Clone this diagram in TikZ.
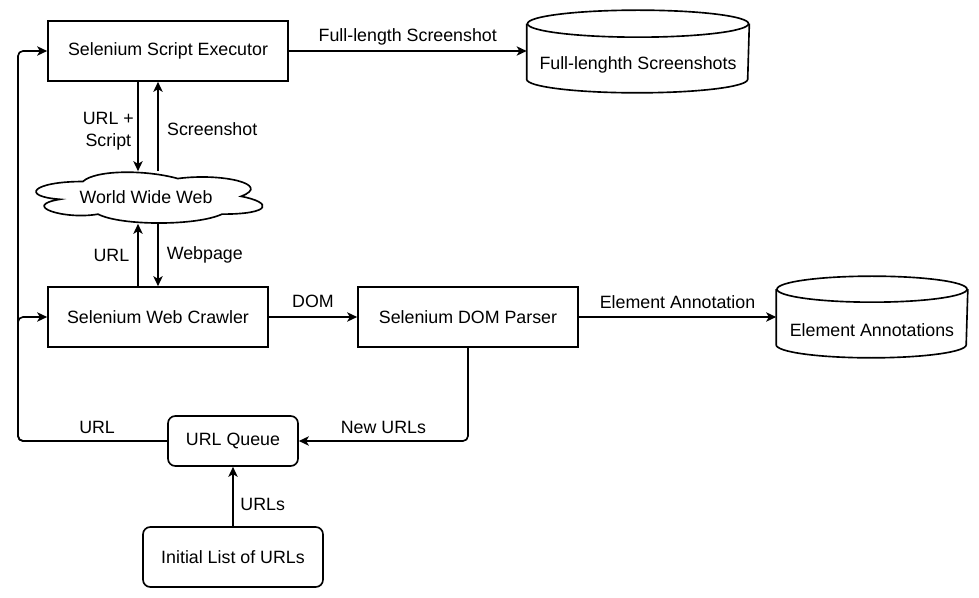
\documentclass[tikz,border=0pt]{standalone}
\usepackage{fontspec}
\setmainfont{Liberation Sans}
\usetikzlibrary{arrows.meta}
\begin{document}
\begin{tikzpicture}[x=0.03cm, y=-0.03cm, line width=1.4pt,
  font=\fontsize{15.2}{18.5}\selectfont,
  box/.style={draw, minimum height=1.8cm, inner sep=0pt},
  store/.style={minimum height=1.62cm, inner sep=0pt},
  flow/.style={-{Stealth[length=0.3cm, width=0.28cm, inset=0.08cm]}},
  lbl/.style={inner sep=0pt}]
\useasboundingbox (0,0) rectangle (979,598);

\node[box, minimum width=7.2cm] (exec) at (168,51) {Selenium Script Executor};
\node[box, minimum width=6.6cm] (crawler) at (158,317) {Selenium Web Crawler};
\node[box, minimum width=6.6cm] (parser) at (468,317) {Selenium DOM Parser};
\node[box, rounded corners=0.22cm, minimum width=3.9cm, minimum height=1.5cm] (queue) at (233,441) {URL Queue};
\node[box, rounded corners=0.22cm, minimum width=5.4cm] (init) at (233,557) {Initial List of URLs};

% stores
\node[store, minimum width=6.63cm] (shots) at (638,65) {Full-lenghth Screenshots};
\draw ([yshift=0.405cm]shots.north west) -- ([yshift=0.405cm]shots.south west)
  arc[start angle=180, end angle=360, x radius=3.315cm, y radius=0.405cm]
  -- ([yshift=0.405cm]shots.north east);
\draw ([yshift=0.405cm]shots.north) ellipse[x radius=3.315cm, y radius=0.405cm];
\node[store, minimum width=5.7cm] (annots) at (872,330) {Element Annotations};
\draw ([yshift=0.39cm]annots.north west) -- ([yshift=0.39cm]annots.south west)
  arc[start angle=180, end angle=360, x radius=2.85cm, y radius=0.39cm]
  -- ([yshift=0.39cm]annots.north east);
\draw ([yshift=0.39cm]annots.north) ellipse[x radius=2.85cm, y radius=0.39cm];

% cloud
\node[inner sep=0pt, minimum width=7.59cm, minimum height=1.53cm] (www) at (146,197.5) {World Wide Web};
\draw[shift={(19.6,166.7)}, x=7.59cm, y=-1.779cm]
  (.25,.25) .. controls (.05,.25) and (0,.5) .. (.16,.55)
  .. controls (0,.66) and (.18,.9) .. (.31,.8)
  .. controls (.4,1) and (.7,1) .. (.8,.8)
  .. controls (1,.8) and (1,.6) .. (.875,.5)
  .. controls (1,.3) and (.8,.1) .. (.625,.2)
  .. controls (.5,.05) and (.3,.05) .. cycle;

\coordinate (lx) at (138,0);
\coordinate (rx) at (158,0);
\coordinate (loop) at (18,441);

\draw[flow] (exec.east) -- (exec.east -| shots.west)
  node[lbl, midway, anchor=base, yshift=0.28cm] {Full-length Screenshot};
\draw[flow] (exec.south -| lx) -- (www.north -| lx)
  node[lbl, pos=0.55, left=0.1cm, align=center] {URL +\\Script};
\draw[flow] (www.north -| rx) -- (exec.south -| rx)
  node[lbl, pos=0.47, right=0.25cm] {Screenshot};
\draw[flow] (crawler.north -| lx) -- (www.south -| lx)
  node[lbl, midway, left=0.24cm] {URL};
\draw[flow] (www.south -| rx) -- (crawler.north -| rx)
  node[lbl, midway, right=0.24cm] {Webpage};
\draw[flow] (crawler) -- (parser)
  node[lbl, midway, anchor=base, yshift=0.28cm] {DOM};
\draw[flow] (parser.east) -- (parser.east -| annots.west)
  node[lbl, midway, anchor=base, yshift=0.24cm] {Element Annotation};
\draw[flow, rounded corners=0.15cm] (parser.south) |- (queue.east)
  node[lbl, pos=0.75, anchor=base, yshift=0.24cm] {New URLs};
\draw[flow, rounded corners=0.15cm] (queue.west) -- node[lbl, pos=0.47, anchor=base, yshift=0.24cm] {URL} (loop) |- (exec.west);
\draw[flow, rounded corners=0.15cm] (queue.west) -- (loop) |- (crawler.west);
\draw[flow] (init.north) -- (queue.south)
  node[lbl, pos=0.36, right=0.2cm] {URLs};
\end{tikzpicture}
\end{document}
